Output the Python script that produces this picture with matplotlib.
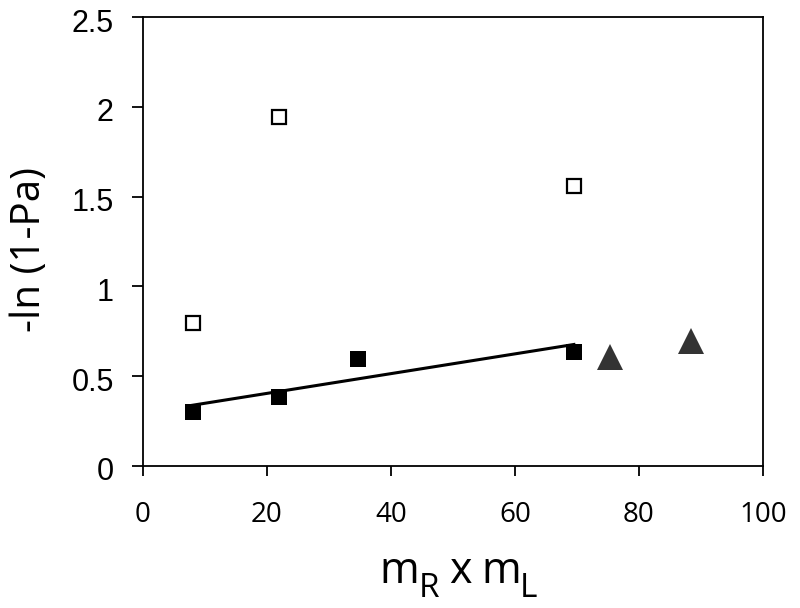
import numpy as np
import matplotlib
matplotlib.use("Agg")
import matplotlib.pyplot as plt
from matplotlib.transforms import ScaledTranslation

# data
open_x = [8, 22, 69.5]
open_y = [0.795, 1.943, 1.559]
filled_x = [8, 22, 34.6, 69.5]
filled_y = [0.299, 0.386, 0.594, 0.636]
tri_x = [75.4, 88.4]
tri_y = [0.607, 0.694]
xticks = [0, 20, 40, 60, 80, 100]
yticks = [0, 0.5, 1, 1.5, 2, 2.5]
ytick_labels = ["0", "0.5", "1", "1.5", "2", "2.5"]

fig = plt.figure(figsize=(8, 6.08), dpi=100)
ax = fig.add_axes([143/800, 1-466/608, (763-143)/800, (466-17)/608])

ax.plot(open_x, open_y, linestyle="none", marker="s", ms=10.5, mfc="white",
        mec="black", mew=1.6)
ax.plot(filled_x, filled_y, linestyle="none", marker="s", ms=12, mfc="black",
        mec="black", mew=0)
slope, intercept = np.polyfit(filled_x, filled_y, 1)
lx = np.array([min(filled_x), max(filled_x)])
ax.plot(lx, slope*lx + intercept, color="black", lw=2.2, zorder=1)
ax.plot(tri_x, tri_y, linestyle="none", marker="^", ms=18.5, mfc="#333333",
        mec="#333333", mew=0)

ax.set_xlim(0, 100)
ax.set_ylim(0, 2.5)
ax.set_xticks(xticks)
ax.set_xticklabels([str(t) for t in xticks], fontfamily="Open Sans", fontsize=20)
ax.set_yticks(yticks)
ax.set_yticklabels(ytick_labels, fontfamily="Liberation Sans", fontsize=22)
ax.tick_params(axis="x", direction="out", length=7, width=1.3, pad=18)
ax.tick_params(axis="y", direction="out", length=8, width=1.3, pad=13)
for lab in ax.get_yticklabels():
    lab.set_transform(lab.get_transform() + ScaledTranslation(0, -3/100, fig.dpi_scale_trans))
for s in ax.spines.values():
    s.set_linewidth(1.3)

# x label: m_R x m_L with large, low subscripts
def px_to_ax(px, py):
    return (px - 143) / 620, (466 - py) / 449

main_kw = dict(transform=ax.transAxes, fontfamily="Open Sans", fontsize=31,
               va="baseline", ha="left", clip_on=False)
sub_kw = dict(transform=ax.transAxes, fontfamily="Open Sans", fontsize=24,
              va="baseline", ha="left", clip_on=False)
ax.text(*px_to_ax(379, 583), "m", **main_kw)
ax.text(*px_to_ax(419, 597), "R", **sub_kw)
ax.text(*px_to_ax(449, 583), "x", **main_kw)
ax.text(*px_to_ax(481, 583), "m", **main_kw)
ax.text(*px_to_ax(520, 597), "L", **sub_kw)

ax.set_ylabel("-ln (1-Pa)", fontfamily="Open Sans", fontsize=29, va="center")
ax.yaxis.set_label_coords((30-143)/620, (466-249)/449)

fig.savefig("out.png", dpi=100)
